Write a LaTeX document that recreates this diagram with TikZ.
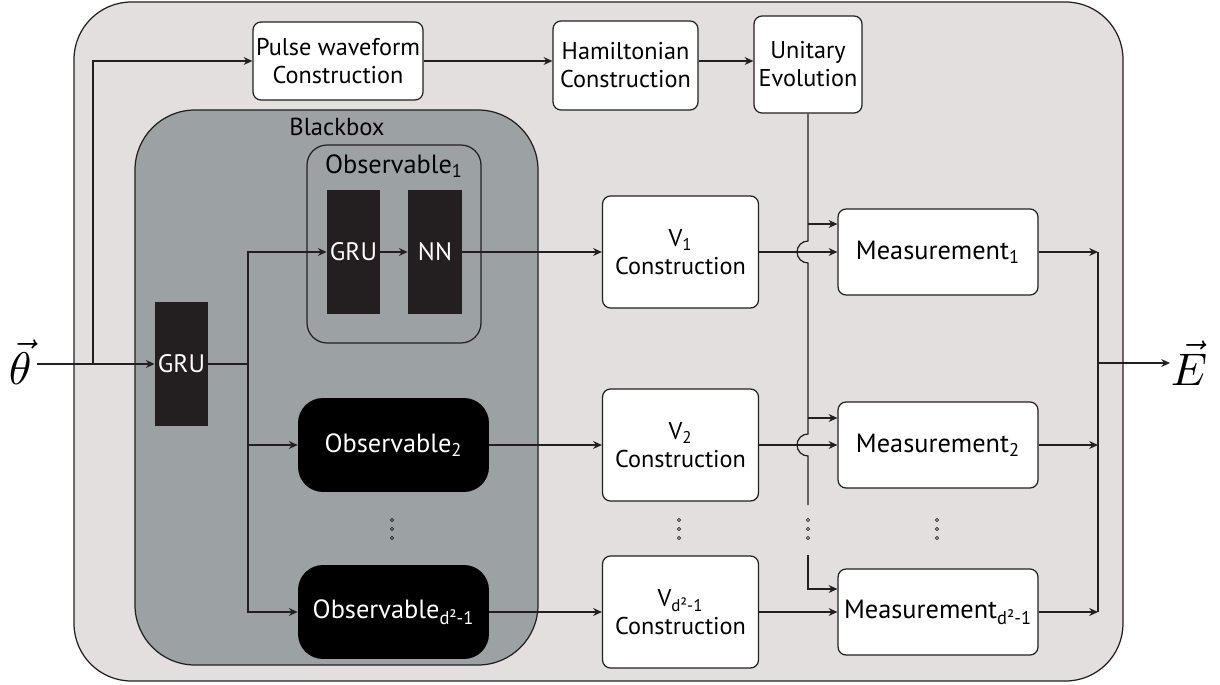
\documentclass[tikz,border=0pt]{standalone}
\usepackage{fontspec}
\setmainfont{PT Sans}
\usetikzlibrary{arrows.meta,positioning,calc}

\definecolor{panel}{HTML}{E4DFDF}
\definecolor{boxgray}{HTML}{9CA1A4}
\definecolor{ink}{HTML}{231F20}

\tikzset{
  wire/.style={draw=ink, line width=0.7pt},
  arr/.style={wire, -{Stealth[length=5pt,width=4.5pt]}},
  whitebox/.style={draw=ink, fill=white, line width=0.7pt, rounded corners=0.16cm,
    align=center, inner sep=0pt, font=\fontsize{13.8}{16}\selectfont},
  cell/.style={fill=ink, text=white, inner sep=0pt, minimum width=1.06cm,
    minimum height=2.5cm, font=\fontsize{14.4}{16}\selectfont},
  obsbox/.style={fill=black, text=white, rounded corners=0.5cm, inner sep=0pt,
    minimum width=3.82cm, minimum height=1.88cm, font=\fontsize{15}{17}\selectfont},
  vbox/.style={whitebox, minimum width=3.12cm, minimum height=2.24cm},
  measbox/.style={whitebox, minimum width=4cm, minimum height=1.72cm,
    font=\fontsize{15}{17}\selectfont},
}

\begin{document}
\begin{tikzpicture}[x=0.02cm, y=0.02cm]
    \useasboundingbox (0,0) rectangle (1220,684);

    % Panels
    \draw[wire, fill=panel, rounded corners=1.15cm] (74,3) rectangle (1123,682);
    \draw[wire, fill=boxgray, rounded corners=1.2cm] (135,19) rectangle (538,574);
    \node[font=\fontsize{14}{16}\selectfont] (bbtitle) at (337,557) {Blackbox};

    % Pulse -> Hamiltonian -> Unitary
    \node[whitebox, minimum width=3.4cm, minimum height=1.56cm] (pulse) at (338,623) {Pulse waveform\\Construction};
    \node[whitebox, minimum width=2.9cm, minimum height=1.78cm] (hamil) at (625.5,618.5) {Hamiltonian\\Construction};
    \node[whitebox, minimum width=2.16cm, minimum height=1.94cm] (unitary) at (808,619.5) {Unitary\\Evolution};

    % Blackbox contents
    \node[cell] (gru) at (181.5,320) {GRU};
    \node[draw=ink, line width=0.7pt, rounded corners=0.4cm, minimum width=3.48cm, minimum height=3.96cm] (obs1) at (394,440) {};
    \node[font=\fontsize{15}{17}\selectfont] (obs1title) at (394,518) {Observable\textsubscript{1}};
    \node[cell] (gru1) at (353.5,432) {GRU};
    \node[cell, minimum width=1.08cm] (nn) at (435,432) {NN};
    \node[obsbox] (obs2) at (393.5,239) {Observable\textsubscript{2}};
    \node[obsbox] (obsd) at (393.5,72) {Observable\textsubscript{d²-1}};

    % V constructions
    \node[vbox] (v1) at (680.5,432) {V\textsubscript{1}\\Construction};
    \node[vbox] (v2) at (680.5,239) {V\textsubscript{2}\\Construction};
    \node[vbox] (vd) at (680.5,72) {V\textsubscript{d²-1}\\Construction};

    % Measurements
    \node[measbox] (meas1) at (938,432) {Measurement\textsubscript{1}};
    \node[measbox] (meas2) at (938,239) {Measurement\textsubscript{2}};
    \node[measbox] (measd) at (938,72) {Measurement\textsubscript{d²-1}};

    % In and out
    \node[scale=2.6, inner sep=1pt, anchor=east] (theta) at (37,322) {$\vec{\theta}$};
    \node[scale=2.6, inner sep=0pt, anchor=west] (E) at (1170,321) {$\vec{E}$};

    % Input lines
    \coordinate (split) at (93,320);
    \draw[arr] (theta.east |- gru.west) -- (gru.west);
    \draw[arr] (split) |- (pulse.west);
    \draw[arr] (pulse.east) -- (pulse.east -| hamil.west);
    \draw[arr] (pulse.east -| hamil.east) -- (pulse.east -| unitary.west);

    % GRU fan-out
    \coordinate (fork) at (248,320);
    \draw[wire] (gru.east) -- (fork);
    \draw[arr] (fork) |- (gru1.west);
    \draw[arr] (fork) |- (obs2.west);
    \draw[arr] (fork) |- (obsd.west);
    \draw[arr] (gru1) -- (nn);
    \draw[arr] (nn) -- (v1);
    \draw[arr] (obs2) -- (v2);
    \draw[arr] (obsd) -- (vd);
    \draw[arr] (v1) -- (meas1);
    \draw[arr] (v2) -- (meas2);
    \draw[arr] (vd) -- (measd);

    % Unitary bus, hopping over the V lines
    \coordinate (busgap) at (808,179);
    \coordinate (busback) at (808,129);
    \coordinate (tap1) at ($(meas1.west)+(0,28)$);
    \coordinate (tap2) at ($(meas2.west)+(0,27)$);
    \coordinate (tap3) at ($(measd.west)+(0,23)$);
    \draw[wire] (unitary.south) -- ($(unitary.south |- v1.west)+(0,11)$)
        arc[start angle=90, end angle=270, radius=11]
        -- ($(unitary.south |- v2.west)+(0,11)$)
        arc[start angle=90, end angle=270, radius=11] -- (busgap);
    \draw[arr] (unitary.south |- tap1) -- (tap1);
    \draw[arr] (unitary.south |- tap2) -- (tap2);
    \draw[arr] (busback) |- (tap3);

    % Collect results
    \coordinate (join) at (1098,321);
    \draw[arr] (meas1) -- (meas1 -| join);
    \draw[arr] (meas2) -- (meas2 -| join);
    \draw[arr] (measd) -- (measd -| join);
    \draw[wire] (meas1 -| join) -- (measd -| join);
    \draw[arr] (join) -- (E.west);

    % Vertical dots
    \foreach \x in {392,679,808,937}
        \foreach \y in {146,155,164}
            \draw[ink, line width=0.4pt] (\x,\y) circle (1.6);
\end{tikzpicture}
\end{document}
